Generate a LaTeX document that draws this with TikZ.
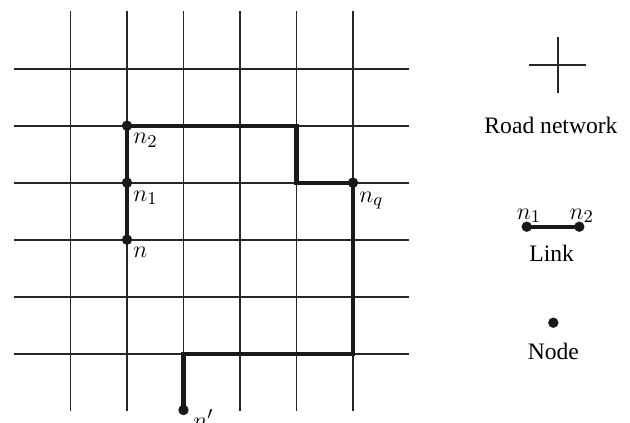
\documentclass[tikz,border=0pt]{standalone}
\usepackage{fontspec}
\setmainfont{Liberation Serif}
\begin{document}
\begin{tikzpicture}[x=0.5pt,y=-0.5pt,
  road/.style={line width=0.9pt, color=black!85},
  link/.style={line width=2.1pt, color=black!90, line join=miter},
  dot/.style={circle, fill=black!90, inner sep=0pt, minimum size=5.2pt},
  lab/.style={inner sep=0pt, font=\fontsize{11.8}{14}\selectfont},
  mlab/.style={inner sep=0pt, font=\fontsize{13}{15}\selectfont}]
\useasboundingbox (0,0) rectangle (630,422);
% road network grid
\foreach \x in {70.5,127,183.5,240,296.5,353}
  \draw[road] (\x,11.5) -- (\x,410.5);
\foreach \y in {68.7,125.7,182.7,239.7,296.7,353.7}
  \draw[road] (14.3,\y) -- (409.3,\y);
% path nodes
\node[dot] (n2) at (127,125.7) {};
\node[dot] (n1) at (127,182.7) {};
\node[dot] (n) at (127,239.7) {};
\node[dot] (nq) at (353,182.7) {};
\node[dot] (np) at (183.5,410) {};
\coordinate (c1) at (183.5,353.7);
\coordinate (c2) at (353,353.7);
\coordinate (c3) at (296.5,182.7);
\coordinate (c4) at (296.5,125.7);
\draw[link] (np.center) -- (c1) -- (c2) -- (nq.center) -- (c3) -- (c4) -- (n2.center) -- (n1.center) -- (n.center);
% labels
\node[mlab, anchor=base west] (ln2) at (133,144) {$n_2$};
\node[mlab, anchor=base west] (ln1) at (133,201) {$n_1$};
\node[mlab, anchor=base west] (ln) at (133,257) {$n$};
\node[mlab, anchor=base west] (lnq) at (359,202) {$n_q$};
\node[mlab, anchor=base west] (lnp) at (193,428) {$n'$};
% legend
\coordinate (rt) at (557.7,36.7);
\coordinate (rb) at (557.7,92.7);
\coordinate (rl) at (529,64.7);
\coordinate (rr) at (586,64.7);
\draw[road] (rt) -- (rb);
\draw[road] (rl) -- (rr);
\node[lab, anchor=base] (rn) at (551,134) {Road network};
\node[dot] (l1) at (526.7,226.7) {};
\node[dot] (l2) at (579.3,226.7) {};
\draw[link] (l1.center) -- (l2.center);
\node[mlab, anchor=base] (ll1) at (529,219) {$n_1$};
\node[mlab, anchor=base] (ll2) at (581.7,219) {$n_2$};
\node[lab, anchor=base] (lk) at (551.7,261.7) {Link};
\node[dot] (nd) at (553.3,322.7) {};
\node[lab, anchor=base] (ndl) at (553.3,359) {Node};
\end{tikzpicture}
\end{document}
